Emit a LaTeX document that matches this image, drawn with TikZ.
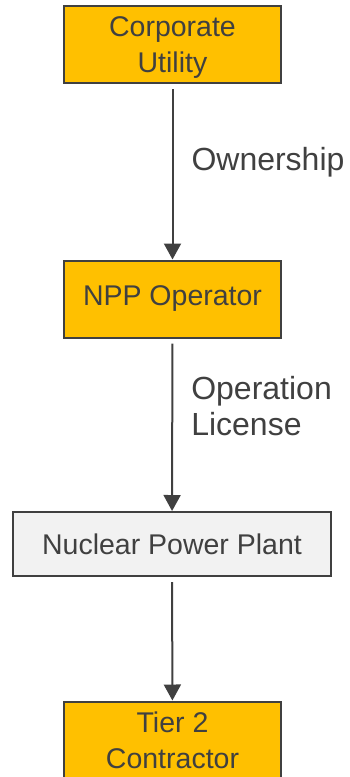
\documentclass[tikz,border=0pt]{standalone}
\usepackage{fontspec}
\setmainfont{Liberation Sans}
\usetikzlibrary{arrows.meta}
\definecolor{boxorange}{HTML}{FFC000}
\definecolor{boxgray}{HTML}{F2F2F2}
\definecolor{ink}{HTML}{404040}
\begin{document}
\begin{tikzpicture}[
    x=1pt, y=-1pt,
    party/.style={rectangle, draw=ink, line width=2pt, fill=boxorange, text=ink,
        minimum width=217pt, minimum height=77pt, inner sep=0pt, align=center,
        font=\fontsize{28.5}{36}\selectfont},
    twoline/.style={party, text depth=0pt},
    plant/.style={party, fill=boxgray, minimum width=318pt, minimum height=64pt},
    link/.style={draw=ink, line width=2pt, shorten <=5pt,
        -{Triangle[width=17pt,length=16pt]}},
    lbl/.style={anchor=west, xshift=18pt, inner sep=0pt, text=ink, align=left,
        font=\fontsize{32}{36}\selectfont}
]
\useasboundingbox (0,0) rectangle (349,777);

% ---- nodes ----
\node[twoline] (cu) at (172.5,44.5) {Corporate\\Utility};
\node[party] (npp) at (172.5,299) {NPP Operator};
\node[plant] (plant) at (172,544) {Nuclear Power Plant};
\node[twoline] (t2) at (172.5,740) {Tier 2\\Contractor};

% ---- links ----
\draw[link] (cu) -- node[lbl, pos=.446] {Ownership} (npp);
\draw[link] (npp) -- node[lbl, pos=.394] {Operation\\License} (plant);
\draw[link] (plant) -- (t2);

\end{tikzpicture}
\end{document}
